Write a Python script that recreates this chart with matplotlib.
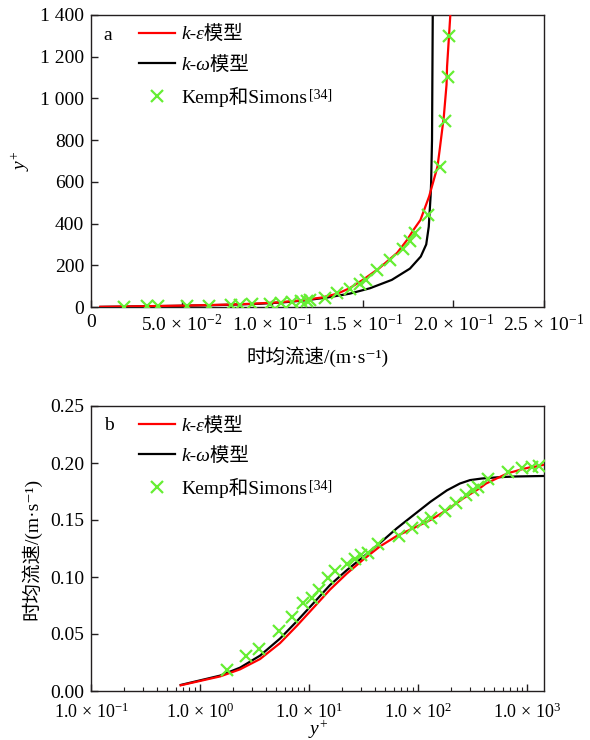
import matplotlib
matplotlib.use('Agg')
import matplotlib.pyplot as plt
from matplotlib.ticker import FixedLocator, FixedFormatter, LogLocator, NullFormatter

plt.rcParams['font.family'] = ['Liberation Serif', 'Noto Sans CJK SC', 'DejaVu Sans']
plt.rcParams['mathtext.fontset'] = 'custom'
plt.rcParams['mathtext.rm'] = 'Liberation Serif'
plt.rcParams['mathtext.it'] = 'Liberation Serif:italic'
plt.rcParams['mathtext.bf'] = 'Liberation Serif:bold'
plt.rcParams['font.size'] = 14

# Kemp & Simons measurements: y+ and mean velocity (m/s)
exp_yplus = [1.76, 2.64, 3.5, 5.27, 6.95, 8.75, 10.6, 12.4, 15.0, 17.3, 22.2, 26.4, 29.8,
             35.0, 43.2, 67.4, 87.5, 112, 131, 177, 223, 276, 318, 357, 441, 673, 894, 1104, 1297]
exp_u = [0.018, 0.031, 0.037, 0.053, 0.065, 0.077, 0.082, 0.089, 0.099, 0.105, 0.111, 0.116, 0.119,
         0.121, 0.129, 0.136, 0.143, 0.1485, 0.1515, 0.158, 0.165, 0.172, 0.176, 0.179, 0.186,
         0.1924, 0.1953, 0.1968, 0.1974]

# k-epsilon model
ke_yplus = [0.665, 1.53, 2.33, 3.55, 5.42, 7.7, 10.97, 15.6, 22.2, 31.6, 45, 63.8, 90, 130,
            184, 260, 321, 370, 417, 530, 672, 752, 912, 1065, 1152, 1400, 1500]
ke_u = [0.0050, 0.0128, 0.019, 0.028, 0.042, 0.057, 0.073, 0.089, 0.103, 0.1155, 0.127, 0.136,
        0.1427, 0.150, 0.1588, 0.169, 0.1744, 0.178, 0.1818, 0.1866, 0.1912, 0.1924, 0.1947,
        0.1962, 0.1965, 0.1983, 0.199]

# k-omega model
kw_yplus = [0.665, 1.53, 2.33, 3.55, 5.42, 7.7, 10.97, 15.6, 22.2, 31.6, 45, 63.8, 90, 130,
            184, 242, 300, 385, 530, 593, 800, 1400, 1500]
kw_u = [0.0053, 0.0135, 0.0205, 0.031, 0.046, 0.061, 0.077, 0.093, 0.106, 0.1178, 0.130, 0.1427,
        0.154, 0.166, 0.176, 0.182, 0.185, 0.1864, 0.1874, 0.1877, 0.1882, 0.1886, 0.1887]

top_xticks = [0, 0.05, 0.10, 0.15, 0.20, 0.25]
top_xlabels = ['0', r'$5.0\,\times\,10^{-2}$', r'$1.0\,\times\,10^{-1}$', r'$1.5\,\times\,10^{-1}$',
               r'$2.0\,\times\,10^{-1}$', r'$2.5\,\times\,10^{-1}$']
top_yticks = [0, 200, 400, 600, 800, 1000, 1200, 1400]
top_ylabels = ['0', '200', '400', '600', '800', '1 000', '1 200', '1 400']
bot_xticks = [0.1, 1, 10, 100, 1000]
bot_xlabels = [r'$1.0\,\times\,10^{-1}$', r'$1.0\,\times\,10^{0}$', r'$1.0\,\times\,10^{1}$',
               r'$1.0\,\times\,10^{2}$', r'$1.0\,\times\,10^{3}$']
bot_yticks = [0, 0.05, 0.10, 0.15, 0.20, 0.25]
bot_ylabels = ['0.00', '0.05', '0.10', '0.15', '0.20', '0.25']

red = '#ff0000'
green = '#66ee33'
spine_c = '#231f20'
lab_ke = 'k-ε模型'
lab_kw = 'k-ω模型'
lab_exp = 'Kemp和Simons'
vel_label = '时均流速/(m·s⁻¹)'

fig = plt.figure(figsize=(5.9, 7.4), dpi=100)
ax1 = fig.add_axes([91/590, 1 - 307/740, 453/590, 292/740])
ax2 = fig.add_axes([91/590, 1 - 691/740, 453/590, 285/740])

for ax in (ax1, ax2):
    for s in ax.spines.values():
        s.set_color(spine_c)
        s.set_linewidth(1.0)
    ax.tick_params(which='major', direction='in', length=5, width=1, color=spine_c,
                   top=False, right=False, labelsize=14, pad=5)
    ax.tick_params(which='minor', direction='in', length=3, width=0.8, color=spine_c,
                   top=False, right=False)

# (a) velocity vs y+
ax1.plot(ke_u, ke_yplus, color=red, lw=1.6, label=lab_ke, zorder=3)
ax1.plot(kw_u, kw_yplus, color='black', lw=1.6, label=lab_kw, zorder=2)
ax1.plot(exp_u, exp_yplus, 'x', color=green, ms=8, mew=1.6, label=lab_exp, zorder=4)
ax1.set_xlim(0, 0.25)
ax1.set_ylim(0, 1400)
ax1.xaxis.set_major_locator(FixedLocator(top_xticks))
ax1.xaxis.set_major_formatter(FixedFormatter(top_xlabels))
ax1.yaxis.set_major_locator(FixedLocator(top_yticks))
ax1.yaxis.set_major_formatter(FixedFormatter(top_ylabels))
ax1.set_xlabel(vel_label, fontsize=14, labelpad=8)
ax1.set_ylabel(r'$y^{+}$', fontsize=14, labelpad=6)
ax1.text(0.028, 0.96, 'a', transform=ax1.transAxes, fontsize=14, va='top')

# (b) y+ vs velocity
ax2.plot(ke_yplus, ke_u, color=red, lw=1.6, label=lab_ke, zorder=3)
ax2.plot(kw_yplus, kw_u, color='black', lw=1.6, label=lab_kw, zorder=2)
ax2.plot(exp_yplus, exp_u, 'x', color=green, ms=8, mew=1.6, label=lab_exp, zorder=4)
ax2.set_xscale('log')
ax2.set_xlim(0.1, 1430)
ax2.set_ylim(0, 0.25)
ax2.xaxis.set_major_locator(FixedLocator(bot_xticks))
ax2.xaxis.set_major_formatter(FixedFormatter(bot_xlabels))
ax2.xaxis.set_minor_locator(LogLocator(base=10, subs=range(2, 10)))
ax2.xaxis.set_minor_formatter(NullFormatter())
ax2.tick_params(axis='x', which='major', pad=8, labelsize=13)
ax2.yaxis.set_major_locator(FixedLocator(bot_yticks))
ax2.yaxis.set_major_formatter(FixedFormatter(bot_ylabels))
ax2.set_xlabel(r'$y^{+}$', fontsize=14, va='center')
ax2.xaxis.set_label_coords(0.5, -0.136)
ax2.set_ylabel(vel_label, fontsize=14, labelpad=6)
ax2.text(0.028, 0.96, 'b', transform=ax2.transAxes, fontsize=14, va='top')

legends = []
for ax in (ax1, ax2):
    leg = ax.legend(loc='upper left', bbox_to_anchor=(0.067, 1.025), frameon=False, fontsize=14,
                    handlelength=1.85, handletextpad=0.35, labelspacing=0.65)
    for t in leg.get_texts()[:2]:
        t.set_fontstyle('italic')
    legends.append(leg)

# superscript reference mark after the experiment label
fig.canvas.draw()
renderer = fig.canvas.get_renderer()
for leg in legends:
    bb = leg.get_texts()[2].get_window_extent(renderer)
    fig.text(bb.x1 + 1, bb.y1 - 2, '[34]', fontsize=10, va='top', ha='left',
             transform=None)

fig.savefig('out.png', dpi=100)
